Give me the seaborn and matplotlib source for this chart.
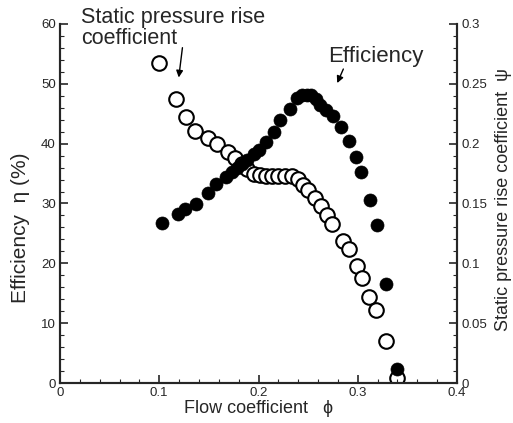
import matplotlib
matplotlib.use("Agg")
import matplotlib.pyplot as plt
import seaborn as sns
import pandas as pd
from matplotlib.ticker import MultipleLocator, FixedLocator, FixedFormatter

# Efficiency (left axis, %)
phi_eff = [0.1025, 0.1185, 0.1255, 0.137, 0.149, 0.157, 0.167, 0.173, 0.178, 0.183,
           0.188, 0.195, 0.200, 0.2075, 0.2155, 0.222, 0.232, 0.2386, 0.2437, 0.2487,
           0.253, 0.2576, 0.262, 0.268, 0.2747, 0.283, 0.2913, 0.298, 0.303, 0.3125,
           0.319, 0.3286, 0.340]
eff = [26.7, 28.2, 29.0, 29.9, 31.7, 33.3, 34.5, 35.2, 36.0, 36.6,
       37.2, 38.2, 38.9, 40.2, 42.0, 43.9, 45.8, 47.6, 48.1, 48.2,
       48.1, 47.4, 46.5, 45.7, 44.6, 42.8, 40.4, 37.8, 35.3, 30.6,
       26.4, 16.5, 2.3]

# Static pressure rise coefficient (right axis)
phi_psi = [0.1001, 0.1164, 0.1265, 0.136, 0.1487, 0.158, 0.1697, 0.1764, 0.183, 0.188,
           0.195, 0.2016, 0.2077, 0.2137, 0.2198, 0.2268, 0.2336, 0.240, 0.2453, 0.250,
           0.257, 0.2626, 0.2689, 0.274, 0.2856, 0.2916, 0.2989, 0.3041, 0.3115, 0.318,
           0.3286, 0.340]
psi = [0.267, 0.2374, 0.222, 0.211, 0.205, 0.1996, 0.193, 0.188, 0.183, 0.179,
       0.175, 0.1735, 0.173, 0.173, 0.173, 0.173, 0.173, 0.1706, 0.1655, 0.161,
       0.155, 0.148, 0.1403, 0.133, 0.1187, 0.112, 0.0977, 0.088, 0.0718, 0.0613,
       0.0347, 0.004]

x_ticks = [0, 0.1, 0.2, 0.3, 0.4]
x_labels = ["0", "0.1", "0.2", "0.3", "0.4"]
left_ticks = [0, 10, 20, 30, 40, 50, 60]
right_ticks = [0, 0.05, 0.1, 0.15, 0.2, 0.25, 0.3]
right_labels = ["0", "0.05", "0.1", "0.15", "0.2", "0.25", "0.3"]

sns.set_style("ticks")
plt.rcParams["font.family"] = ["Liberation Sans", "DejaVu Sans"]

df_e = pd.DataFrame({"phi": phi_eff, "eff": eff})
df_p = pd.DataFrame({"phi": phi_psi, "psi": psi})

W, H = 513, 423
fig = plt.figure(figsize=(W / 100, H / 100), dpi=100)
ax = fig.add_axes([60 / W, 1 - 383 / H, 397 / W, 359 / H])
ax2 = ax.twinx()

sns.scatterplot(data=df_p, x="phi", y="psi", ax=ax2, s=110, marker="o",
                facecolor="white", edgecolor="black", linewidth=1.5, zorder=2)
sns.scatterplot(data=df_e, x="phi", y="eff", ax=ax, s=88, marker="o",
                color="black", edgecolor="black", linewidth=0.5, zorder=3)

ax.set_zorder(ax2.get_zorder() + 1)
ax.patch.set_visible(False)

ax.set_xlim(0, 0.4)
ax.set_ylim(0, 60)
ax2.set_ylim(0, 0.3)

ax.xaxis.set_major_locator(FixedLocator(x_ticks))
ax.xaxis.set_major_formatter(FixedFormatter(x_labels))
ax.xaxis.set_minor_locator(MultipleLocator(0.02))
ax.yaxis.set_major_locator(FixedLocator(left_ticks))
ax.yaxis.set_minor_locator(MultipleLocator(2))
ax2.yaxis.set_major_locator(FixedLocator(right_ticks))
ax2.yaxis.set_major_formatter(FixedFormatter(right_labels))
ax2.yaxis.set_minor_locator(MultipleLocator(0.01))

for a in (ax, ax2):
    a.tick_params(which="major", direction="in", length=6, width=1.2, labelsize=9.5, pad=3)
    a.tick_params(which="minor", direction="in", length=3, width=0.8)
    for s in a.spines.values():
        s.set_linewidth(1.5)
    a.spines["top"].set_visible(False)

ax.set_xlabel("Flow coefficient   \u03d5", fontsize=13)
ax.xaxis.set_label_coords(0.5, -0.047)
ax.set_ylabel("Efficiency  \u03b7 (%)", fontsize=15)
ax.yaxis.set_label_coords(-0.076, 0.433)
ax2.set_ylabel("Static pressure rise coefficient  \u03c8", fontsize=13)
ax2.yaxis.set_label_coords(1.096, 0.51)

# annotations (figure pixel positions)
fig.text(81 / W, 1 - 23 / H, "Static pressure rise", fontsize=15.5,
         ha="left", va="baseline")
fig.text(81 / W, 1 - 44 / H, "coefficient", fontsize=15.5,
         ha="left", va="baseline")
fig.text(328 / W, 1 - 62 / H, "Efficiency", fontsize=16,
         ha="left", va="baseline")

ax.annotate("", xy=(0.1193, 50.6), xytext=(0.1237, 56.5),
            arrowprops=dict(arrowstyle="-|>", color="black", lw=1, mutation_scale=10))
ax.annotate("", xy=(0.2782, 49.7), xytext=(0.2866, 52.9),
            arrowprops=dict(arrowstyle="-|>", color="black", lw=1, mutation_scale=10))

fig.savefig("out.png", dpi=100)
